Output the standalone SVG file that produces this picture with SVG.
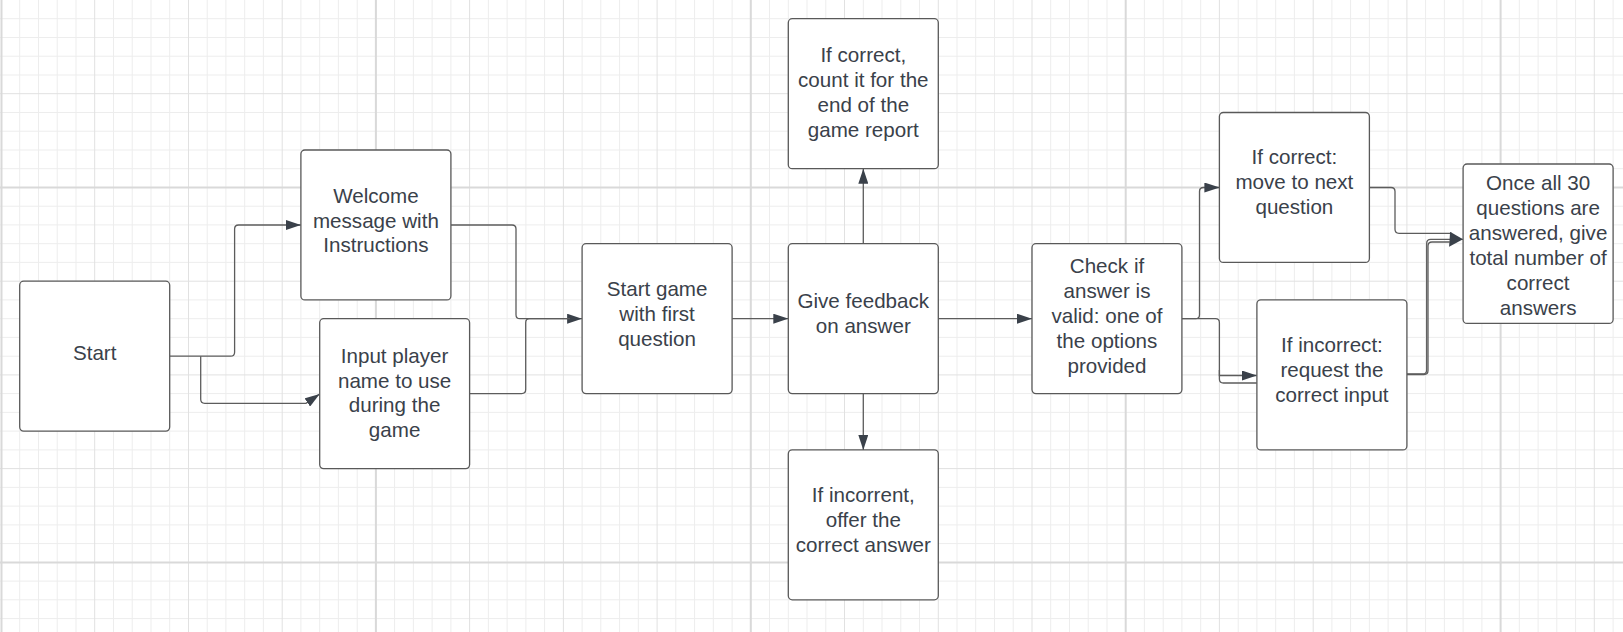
<svg xmlns="http://www.w3.org/2000/svg" width="1623" height="632" viewBox="0 0 1623 632">
<style>
.g1{stroke:#ededed;stroke-width:1;fill:none}
.g5{stroke:#e1e1e1;stroke-width:1;fill:none}
.g20{stroke:#d9d9d9;stroke-width:2;fill:none}
.box{fill:#ffffff;stroke:#595959;stroke-width:1.3}
.lbl{font-family:"Liberation Sans",Arial,sans-serif;font-size:20.6px;fill:#3a414a;text-anchor:middle}
.con{fill:none;stroke:#5c5c5c;stroke-width:1.3}
</style>
<defs>
<marker id="arr" markerUnits="userSpaceOnUse" markerWidth="15" markerHeight="10" refX="15" refY="5" orient="auto" viewBox="0 0 15 10">
<path d="M0,0 L15,5 L0,10 z" fill="#3a414a"/>
</marker>
<marker id="arrL" markerUnits="userSpaceOnUse" markerWidth="14" markerHeight="15" refX="14" refY="7.5" orient="auto" viewBox="0 0 14 15">
<path d="M1,0 L14,7.5 L0,15 z" fill="#3a414a"/>
</marker>
</defs>
<rect x="0" y="0" width="1623" height="632" fill="#ffffff"/>
<g id="grid">
<path class="g1" d="M19.7 0V632M38.5 0V632M57.2 0V632M76 0V632M113.5 0V632M132.2 0V632M151 0V632M169.7 0V632M207.2 0V632M225.9 0V632M244.7 0V632M263.4 0V632M300.9 0V632M319.7 0V632M338.4 0V632M357.2 0V632M394.6 0V632M413.4 0V632M432.1 0V632M450.9 0V632M488.4 0V632M507.1 0V632M525.9 0V632M544.6 0V632M582.1 0V632M600.8 0V632M619.6 0V632M638.3 0V632M675.8 0V632M694.6 0V632M713.3 0V632M732.1 0V632M769.5 0V632M788.3 0V632M807 0V632M825.8 0V632M863.3 0V632M882 0V632M900.8 0V632M919.5 0V632M957 0V632M975.7 0V632M994.5 0V632M1013.2 0V632M1050.7 0V632M1069.5 0V632M1088.2 0V632M1107 0V632M1144.4 0V632M1163.2 0V632M1181.9 0V632M1200.7 0V632M1238.2 0V632M1256.9 0V632M1275.7 0V632M1294.4 0V632M1331.9 0V632M1350.6 0V632M1369.4 0V632M1388.1 0V632M1425.6 0V632M1444.4 0V632M1463.1 0V632M1481.9 0V632M1519.3 0V632M1538.1 0V632M1556.8 0V632M1575.6 0V632M1613.1 0V632"/>
<path class="g1" d="M0 18.7H1623M0 37.5H1623M0 56.2H1623M0 75H1623M0 112.5H1623M0 131.2H1623M0 150H1623M0 168.7H1623M0 206.2H1623M0 224.9H1623M0 243.7H1623M0 262.4H1623M0 299.9H1623M0 318.7H1623M0 337.4H1623M0 356.2H1623M0 393.6H1623M0 412.4H1623M0 431.1H1623M0 449.9H1623M0 487.4H1623M0 506.1H1623M0 524.9H1623M0 543.6H1623M0 581.1H1623M0 599.8H1623M0 618.6H1623"/>
<path class="g5" d="M94.7 0V632M188.5 0V632M282.2 0V632M469.6 0V632M563.4 0V632M657.1 0V632M844.5 0V632M938.3 0V632M1032 0V632M1219.4 0V632M1313.2 0V632M1406.9 0V632M1594.3 0V632M0 93.7H1623M0 281.2H1623M0 374.9H1623M0 468.6H1623"/>
<path class="g20" d="M1.5 0V632M375.9 0V632M750.8 0V632M1125.7 0V632M1500.6 0V632M0 187.5H1623M0 562.4H1623"/>
</g>
<g id="connectors">
<path class="con" d="M169.7 356.2H230.6Q234.6 356.2 234.6 352.2V229Q234.6 225 238.6 225H300.9" marker-end="url(#arr)"/>
<path class="con" d="M200.7 356.2V399.3Q200.7 403.3 204.7 403.3H306L319.7 394" marker-end="url(#arr)"/>
<path class="con" d="M450.9 225H512Q516 225 516 229V314.7Q516 318.7 520 318.7H582.1" marker-end="url(#arr)"/>
<path class="con" d="M469.6 393.6H521.7Q525.7 393.6 525.7 389.6V322.7Q525.7 318.7 529.7 318.7H570"/>
<path class="con" d="M732.1 318.7H788.3" marker-end="url(#arr)"/>
<path class="con" d="M863.3 243.7V168.7" marker-end="url(#arr)"/>
<path class="con" d="M863.3 393.6V449.9" marker-end="url(#arr)"/>
<path class="con" d="M938.3 318.7H1032" marker-end="url(#arr)"/>
<path class="con" d="M1181.9 318.7H1195.5Q1199.5 318.7 1199.5 314.7V191.5Q1199.5 187.5 1203.5 187.5H1219.4" marker-end="url(#arr)"/>
<path class="con" d="M1181.9 318.7H1215.4Q1219.4 318.7 1219.4 322.7V375.5H1256.9" marker-end="url(#arr)"/>
<path class="con" d="M1219.4 370V379Q1219.4 383 1223.4 383H1256.9"/>
<path class="con" d="M1369.4 187.5H1391Q1395 187.5 1395 191.5V229.3Q1395 233.3 1399 233.3H1452"/>
<path class="con" d="M1406.9 374H1422.7Q1426.7 374 1426.7 370V243.3Q1426.7 239.3 1430.7 239.3H1463.1" marker-end="url(#arrL)"/>
<path class="con" d="M1406.9 374.5H1424Q1428 374.5 1428 370.5V246Q1428 242 1432 242H1450"/>
</g>
<g id="n-start">
<rect class="box" x="19.7" y="281.2" width="150" height="149.9" rx="4"/>
<text class="lbl" x="94.7" y="360">Start</text>
</g>
<g id="n-welcome">
<rect class="box" x="300.9" y="150" width="150" height="149.9" rx="4"/>
<text class="lbl"><tspan x="375.9" y="202.7">Welcome</tspan><tspan x="375.9" y="227.5">message with</tspan><tspan x="375.9" y="252.3">Instructions</tspan></text>
</g>
<g id="n-input">
<rect class="box" x="319.7" y="318.7" width="149.9" height="149.9" rx="4"/>
<text class="lbl"><tspan x="394.6" y="363.3">Input player</tspan><tspan x="394.6" y="387.8">name to use</tspan><tspan x="394.6" y="412.3">during the</tspan><tspan x="394.6" y="436.8">game</tspan></text>
</g>
<g id="n-startgame">
<rect class="box" x="582.1" y="243.7" width="150" height="149.9" rx="4"/>
<text class="lbl"><tspan x="657.1" y="296">Start game</tspan><tspan x="657.1" y="321">with first</tspan><tspan x="657.1" y="346">question</tspan></text>
</g>
<g id="n-feedback">
<rect class="box" x="788.3" y="243.7" width="150" height="149.9" rx="4"/>
<text class="lbl"><tspan x="863.3" y="308.3">Give feedback</tspan><tspan x="863.3" y="333.3">on answer</tspan></text>
</g>
<g id="n-count">
<rect class="box" x="788.3" y="18.7" width="150" height="150" rx="4"/>
<text class="lbl"><tspan x="863.3" y="62.3">If correct,</tspan><tspan x="863.3" y="87.3">count it for the</tspan><tspan x="863.3" y="112">end of the</tspan><tspan x="863.3" y="136.7">game report</tspan></text>
</g>
<g id="n-incorrent">
<rect class="box" x="788.3" y="449.9" width="150" height="149.9" rx="4"/>
<text class="lbl"><tspan x="863.3" y="501.7">If incorrent,</tspan><tspan x="863.3" y="526.7">offer the</tspan><tspan x="863.3" y="551.7">correct answer</tspan></text>
</g>
<g id="n-check">
<rect class="box" x="1032" y="243.7" width="149.9" height="149.9" rx="4"/>
<text class="lbl"><tspan x="1107" y="273.3">Check if</tspan><tspan x="1107" y="298.3">answer is</tspan><tspan x="1107" y="323.3">valid: one of</tspan><tspan x="1107" y="348.3">the options</tspan><tspan x="1107" y="373.3">provided</tspan></text>
</g>
<g id="n-move">
<rect class="box" x="1219.4" y="112.5" width="150" height="149.9" rx="4"/>
<text class="lbl"><tspan x="1294.4" y="164">If correct:</tspan><tspan x="1294.4" y="189">move to next</tspan><tspan x="1294.4" y="213.7">question</tspan></text>
</g>
<g id="n-request">
<rect class="box" x="1256.9" y="299.9" width="150" height="150" rx="4"/>
<text class="lbl"><tspan x="1331.9" y="352.3">If incorrect:</tspan><tspan x="1331.9" y="376.7">request the</tspan><tspan x="1331.9" y="401.5">correct input</tspan></text>
</g>
<g id="n-once">
<rect class="box" x="1463.1" y="164" width="150" height="159.4" rx="4"/>
<text class="lbl"><tspan x="1538.1" y="190">Once all 30</tspan><tspan x="1538.1" y="215">questions are</tspan><tspan x="1538.1" y="240">answered, give</tspan><tspan x="1538.1" y="265">total number of</tspan><tspan x="1538.1" y="290">correct</tspan><tspan x="1538.1" y="315">answers</tspan></text>
</g>
</svg>
